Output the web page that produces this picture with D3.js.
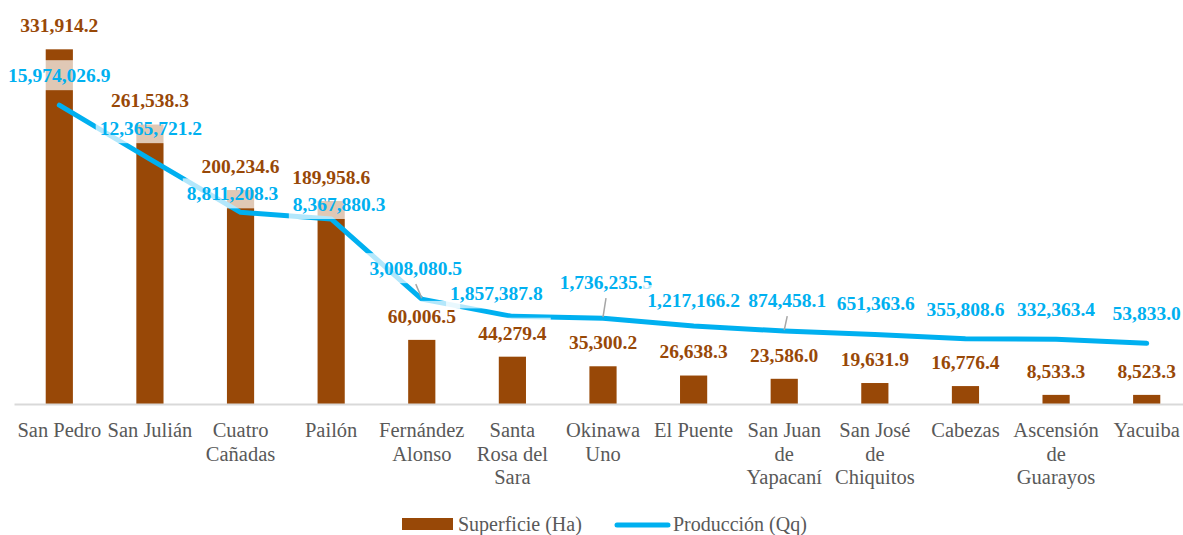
<!DOCTYPE html>
<html>
<head>
<meta charset="utf-8">
<script src="https://cdn.jsdelivr.net/npm/d3@7"></script>
<style>
  body { margin: 0; background: #fff; }
  svg { display: block; font-family: "Liberation Serif", "DejaVu Serif", serif; }
</style>
</head>
<body>
<div id="chart"></div>
<script>
// data
var categories = ["San Pedro", "San Julián", "Cuatro Cañadas", "Pailón", "Fernández Alonso",
  "Santa Rosa del Sara", "Okinawa Uno", "El Puente", "San Juan de Yapacaní",
  "San José de Chiquitos", "Cabezas", "Ascensión de Guarayos", "Yacuiba"];

var tickLines = [["San Pedro"], ["San Julián"], ["Cuatro", "Cañadas"], ["Pailón"],
  ["Fernández", "Alonso"], ["Santa", "Rosa del", "Sara"], ["Okinawa", "Uno"], ["El Puente"],
  ["San Juan", "de", "Yapacaní"], ["San José", "de", "Chiquitos"], ["Cabezas"],
  ["Ascensión", "de", "Guarayos"], ["Yacuiba"]];

var superficie = [331914.2, 261538.3, 200234.6, 189958.6, 60006.5, 44279.4, 35300.2,
  26638.3, 23586.0, 19631.9, 16776.4, 8533.3, 8523.3];

var produccion = [15974026.9, 12365721.2, 8811208.3, 8367880.3, 3008080.5, 1857387.8,
  1736235.5, 1217166.2, 874458.1, 651363.6, 355808.6, 332363.4, 53833.0];

var seriesNames = ["Superficie (Ha)", "Producción (Qq)"];

// label layout tweaks (pixels), like the hand-moved labels of the original
var lineLabelNudge = [[0, -30], [1, -31], [-8, -19], [8, -15], [-6, -31], [-16, -23], [3, -36],
  [0, -26], [3, -31], [1, -31], [0, -30], [0, -30], [0, -30]];
var leaderIdx = [4, 6, 8];

var svgWidth = 1183;
var svgHeight = 535;
var brown = "#984807";
var blue = "#00B0F0";
var gray = "#595959";
var serif = "'Liberation Serif', 'DejaVu Serif', serif";

var svg = d3.select("#chart")
  .append("svg")
  .attr("width", svgWidth)
  .attr("height", svgHeight);

var fmt = d3.format(",.1f");

var x = d3.scaleBand()
  .domain(categories)
  .range([14, 1192])
  .paddingInner(0.7)
  .paddingOuter(0.35);

var yBar = d3.scaleLinear().domain([0, 350000]).range([404, 30]);
var yLine = d3.scaleLinear().domain([-4000000, 21000000]).range([404, 30]);

var xc = function(i) { return x(categories[i]) + x.bandwidth() / 2; };

// bars
svg.append("g").selectAll("rect")
  .data(superficie)
  .enter()
  .append("rect")
  .attr("x", (d, i) => x(categories[i]))
  .attr("width", x.bandwidth())
  .attr("y", d => yBar(d))
  .attr("height", d => yBar(0) - yBar(d))
  .attr("fill", brown);

// category axis
var xAxis = d3.axisBottom(x).tickSize(0).tickFormat("");
var axisG = svg.append("g")
  .attr("transform", "translate(0," + yBar(0) + ")")
  .call(xAxis)
  .attr("font-family", serif);
axisG.select(".domain").attr("stroke", "#D9D9D9").attr("stroke-width", 2);

axisG.selectAll(".tick").each(function(d, i) {
  var t = d3.select(this).append("text")
    .attr("fill", gray)
    .attr("font-size", "20.5px")
    .attr("text-anchor", "middle")
    .attr("y", 26);
  tickLines[i].forEach(function(line, k) {
    t.append("tspan").attr("x", 0).attr("dy", k === 0 ? "0.35em" : "23.5px").text(line);
  });
});

// production line
var line = d3.line()
  .x((d, i) => xc(i))
  .y(d => yLine(d));

svg.append("path")
  .datum(produccion)
  .attr("d", line)
  .attr("fill", "none")
  .attr("stroke", blue)
  .attr("stroke-width", 5)
  .attr("stroke-linecap", "round")
  .attr("stroke-linejoin", "round");

// leader lines
svg.append("g").selectAll("line")
  .data(leaderIdx)
  .enter()
  .append("line")
  .attr("x1", i => xc(i) + lineLabelNudge[i][0])
  .attr("y1", i => yLine(produccion[i]) + lineLabelNudge[i][1] + 16)
  .attr("x2", i => xc(i))
  .attr("y2", i => yLine(produccion[i]) - 1)
  .attr("stroke", "#A6A6A6")
  .attr("stroke-width", 1.5);

// label helper: text over a half see-through white box
function addLabel(g, cx, cy, txt, color) {
  var t = g.append("text")
    .attr("x", cx)
    .attr("y", cy)
    .attr("dy", "0.35em")
    .attr("text-anchor", "middle")
    .attr("font-size", "19.5px")
    .attr("font-weight", "bold")
    .attr("fill", color)
    .text(txt);
  var bb = t.node().getBBox();
  g.insert("rect", function() { return t.node(); })
    .attr("x", bb.x - 4)
    .attr("y", cy - 15)
    .attr("width", bb.width + 8)
    .attr("height", 30)
    .attr("fill", "#fff")
    .attr("fill-opacity", 0.7);
}

var barLabels = svg.append("g");
superficie.forEach(function(v, i) {
  addLabel(barLabels.append("g"), xc(i), yBar(v) - 24, fmt(v), brown);
});

var lineLabels = svg.append("g");
produccion.forEach(function(v, i) {
  addLabel(lineLabels.append("g"), xc(i) + lineLabelNudge[i][0],
    yLine(v) + lineLabelNudge[i][1], fmt(v), blue);
});

// legend
var legend = svg.append("g");
legend.append("rect")
  .attr("x", 402).attr("y", 518)
  .attr("width", 51).attr("height", 12)
  .attr("fill", brown);
legend.append("text")
  .attr("x", 458).attr("y", 524).attr("dy", "0.35em")
  .attr("font-size", "20px").attr("fill", gray)
  .text(seriesNames[0]);
legend.append("line")
  .attr("x1", 617).attr("x2", 668)
  .attr("y1", 525).attr("y2", 525)
  .attr("stroke", blue).attr("stroke-width", 5)
  .attr("stroke-linecap", "round");
legend.append("text")
  .attr("x", 673).attr("y", 524).attr("dy", "0.35em")
  .attr("font-size", "20px").attr("fill", gray)
  .text(seriesNames[1]);
</script>
</body>
</html>
